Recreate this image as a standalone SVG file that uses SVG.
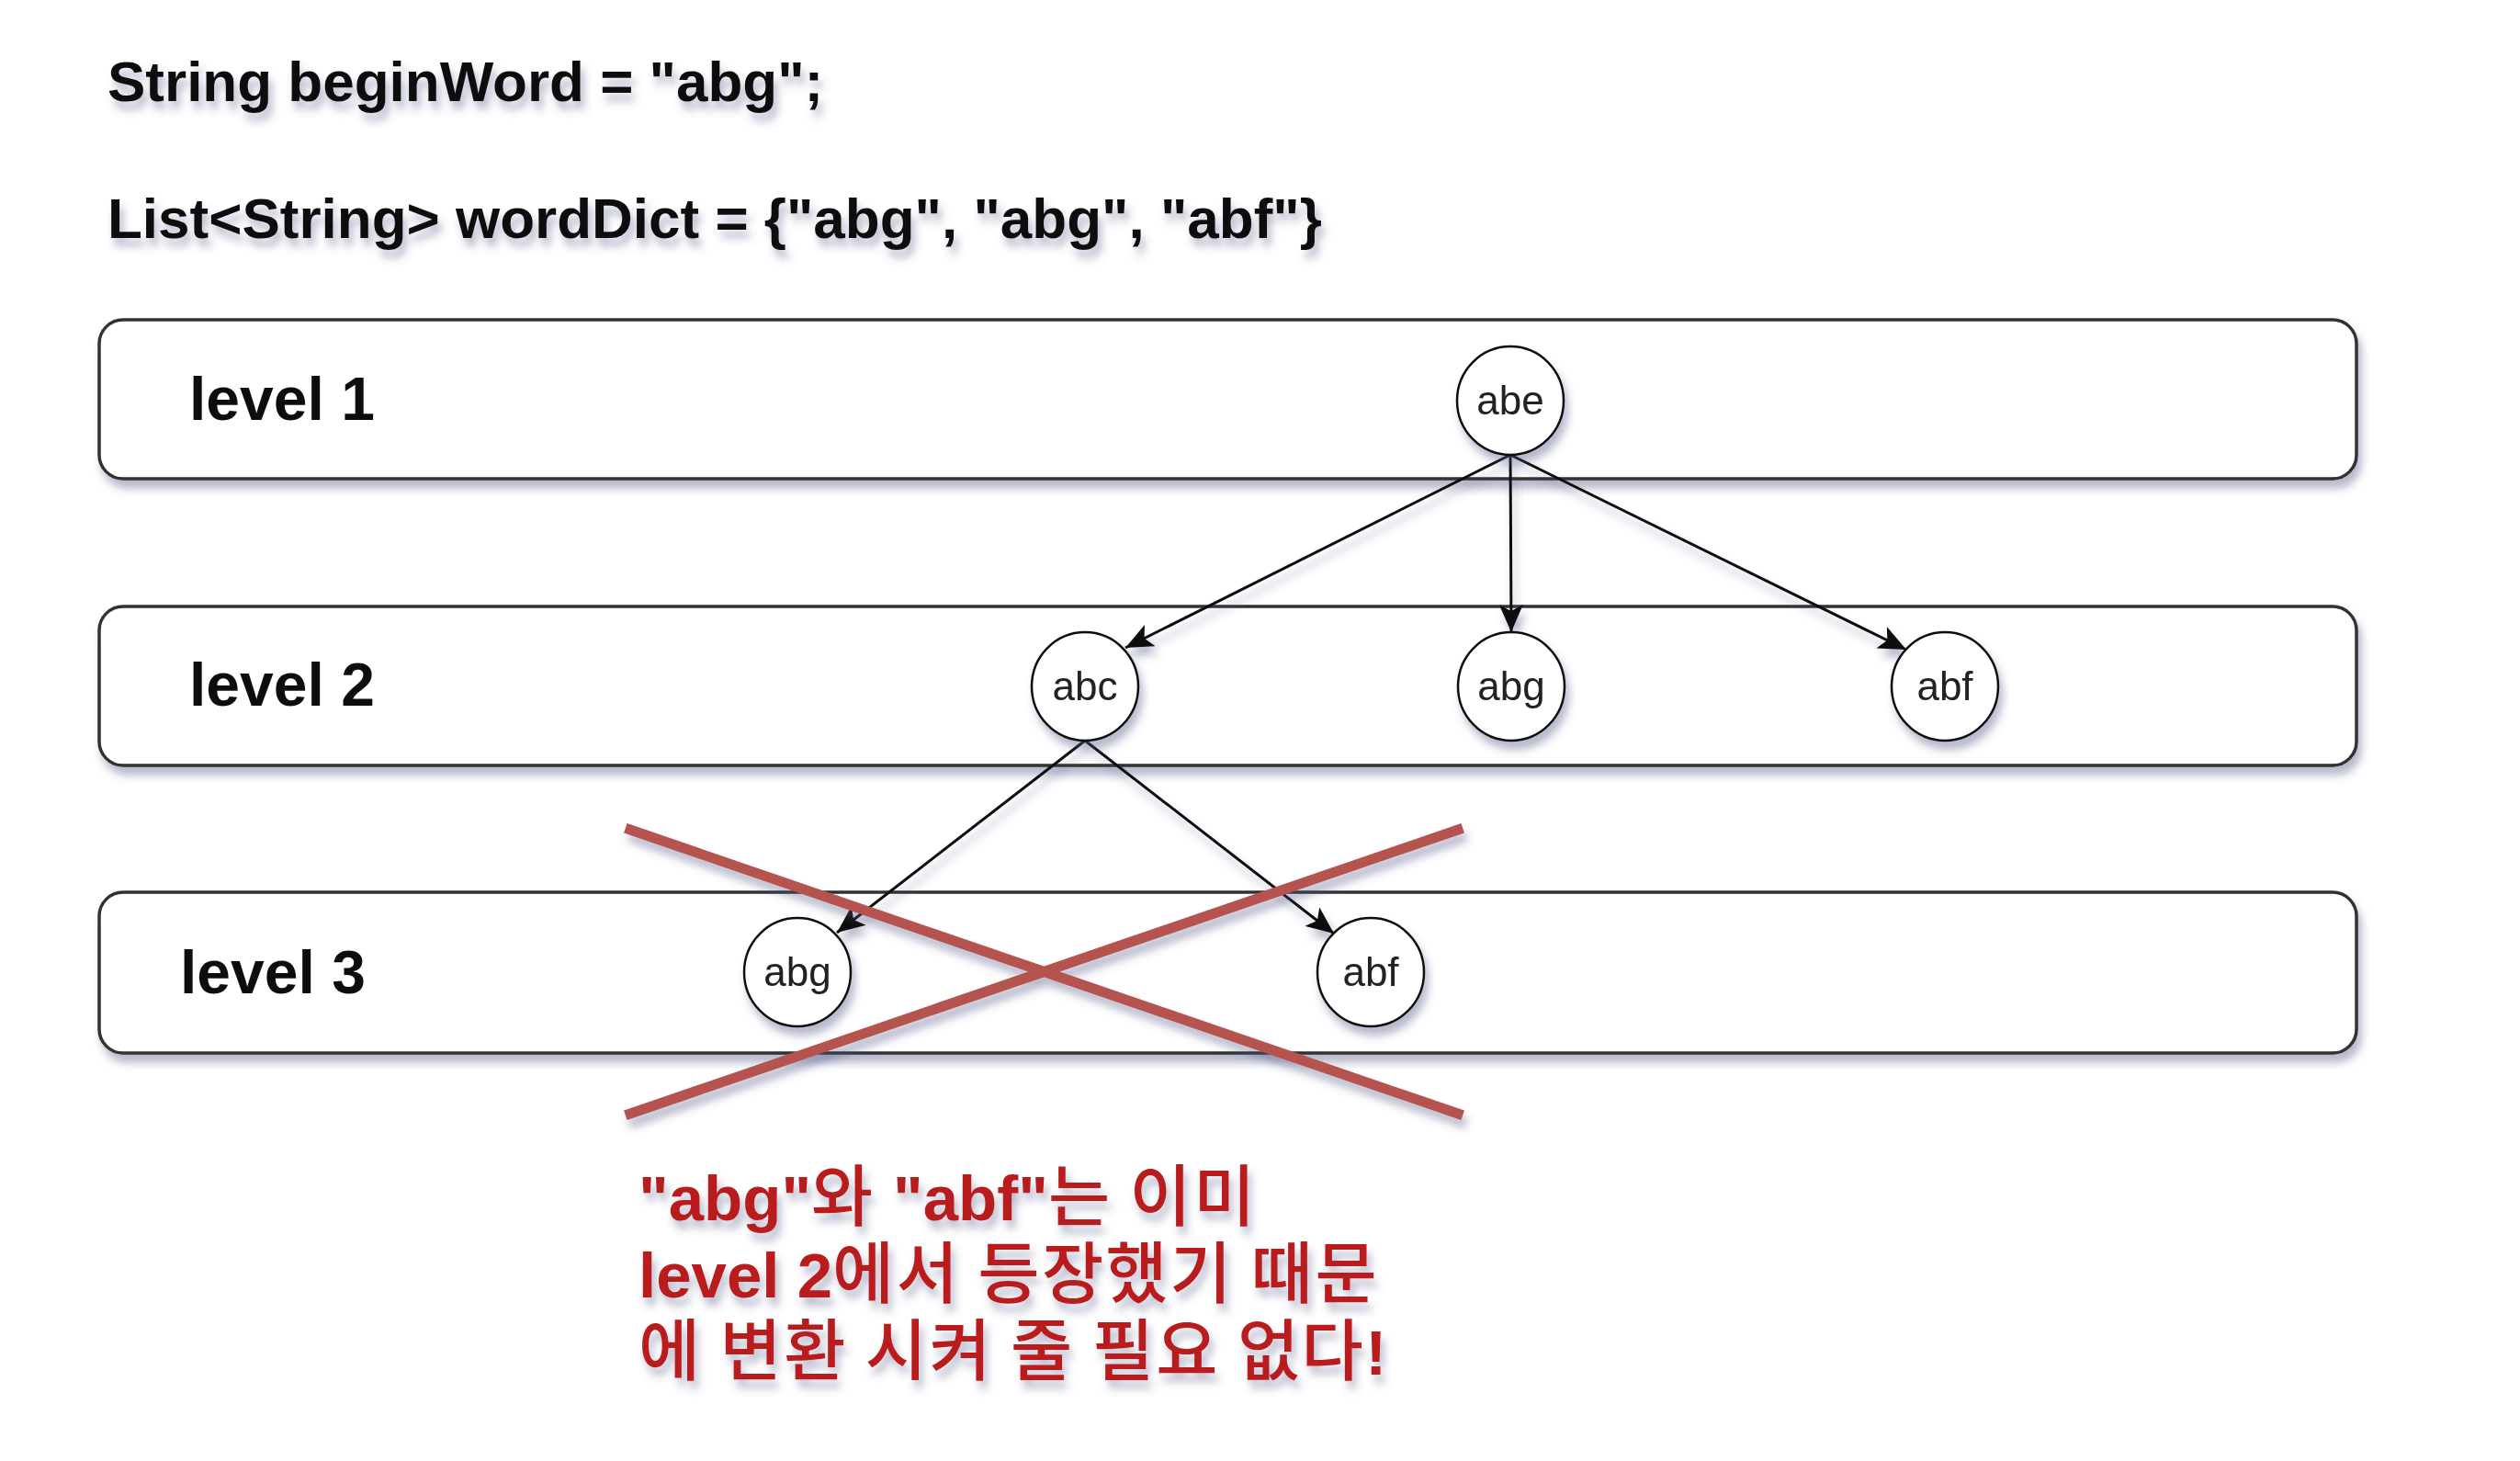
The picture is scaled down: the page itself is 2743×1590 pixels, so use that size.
<svg xmlns="http://www.w3.org/2000/svg" width="2743" height="1590" viewBox="0 0 2743 1590">
<style>
.code{font-family:"Liberation Sans",Arial,sans-serif;font-weight:bold;font-size:62px;fill:#111}
.lvl{font-family:"Liberation Sans",Arial,sans-serif;font-weight:bold;font-size:66px;fill:#111}
.lane{fill:#fff;stroke:#333;stroke-width:3.5}
.node ellipse{fill:#fff;stroke:#111;stroke-width:2.5}
.node text{font-family:"Liberation Sans",Arial,sans-serif;font-size:44px;fill:#222;text-anchor:middle}
.edge{stroke:#111;stroke-width:3;fill:none;marker-end:url(#arr)}
.cross{stroke:#b5534f;stroke-width:11;stroke-linecap:square}
.note{font-family:"Liberation Sans","Noto Sans CJK KR",sans-serif;font-weight:bold;font-size:69px;fill:#b91c1c}
.ko{font-family:"Noto Sans CJK KR",sans-serif;font-size:73px;font-weight:500;letter-spacing:2.5px}
</style>
<defs>
<filter id="sh" x="-10%" y="-30%" width="120%" height="160%">
<feDropShadow dx="4" dy="9" stdDeviation="5" flood-color="#4a4f80" flood-opacity="0.4"/>
</filter>
<marker id="arr" markerUnits="userSpaceOnUse" viewBox="0 0 30 26" refX="30" refY="13" markerWidth="30" markerHeight="26" orient="auto">
<path d="M0,0 L30,13 L0,26 L7,13 Z" fill="#111"/>
</marker>
</defs>
<rect width="2743" height="1590" fill="#fff"/>
<g id="header" filter="url(#sh)">
<text class="code" x="117" y="110">String beginWord = "abg";</text>
<text class="code" x="117" y="259">List&lt;String&gt; wordDict = {"abg", "abg", "abf"}</text>
</g>
<g id="lane1" filter="url(#sh)">
<rect class="lane" x="108" y="348" width="2457" height="173" rx="26"/>
<text class="lvl" x="206" y="457">level 1</text>
</g>
<g id="lane2" filter="url(#sh)">
<rect class="lane" x="108" y="660" width="2457" height="173" rx="26"/>
<text class="lvl" x="206" y="768">level 2</text>
</g>
<g id="lane3" filter="url(#sh)">
<rect class="lane" x="108" y="971" width="2457" height="175" rx="26"/>
<text class="lvl" x="196" y="1081">level 3</text>
</g>
<g id="connectors" filter="url(#sh)">
<line class="edge" x1="1644" y1="495" x2="1225" y2="705"/>
<line class="edge" x1="1644" y1="495" x2="1645" y2="688"/>
<line class="edge" x1="1644" y1="495" x2="2075" y2="707"/>
<line class="edge" x1="1181" y1="806" x2="911" y2="1015"/>
<line class="edge" x1="1181" y1="806" x2="1452" y2="1016"/>
</g>
<g id="n-abe" class="node" filter="url(#sh)">
<ellipse cx="1644" cy="436" rx="58" ry="59"/>
<text x="1644" y="451">abe</text>
</g>
<g id="n-abc" class="node" filter="url(#sh)">
<ellipse cx="1181" cy="747" rx="58" ry="59"/>
<text x="1181" y="762">abc</text>
</g>
<g id="n-abg2" class="node" filter="url(#sh)">
<ellipse cx="1645" cy="747" rx="58" ry="59"/>
<text x="1645" y="762">abg</text>
</g>
<g id="n-abf2" class="node" filter="url(#sh)">
<ellipse cx="2117" cy="747" rx="58" ry="59"/>
<text x="2117" y="762">abf</text>
</g>
<g id="n-abg3" class="node" filter="url(#sh)">
<ellipse cx="868" cy="1058" rx="58" ry="59"/>
<text x="868" y="1073">abg</text>
</g>
<g id="n-abf3" class="node" filter="url(#sh)">
<ellipse cx="1492" cy="1058" rx="58" ry="59"/>
<text x="1492" y="1073">abf</text>
</g>
<g id="cross" filter="url(#sh)">
<line class="cross" x1="686" y1="903" x2="1587" y2="1212"/>
<line class="cross" x1="686" y1="1212" x2="1587" y2="903"/>
</g>
<g id="note" filter="url(#sh)">
<text class="note" x="695" y="1328">"abg"<tspan class="ko">와</tspan> "abf"<tspan class="ko">는 이미</tspan></text>
<text class="note" x="695" y="1412">level 2<tspan class="ko">에서 등장했기 때문</tspan></text>
<text class="note" x="695" y="1496"><tspan class="ko">에 변환 시켜 줄 필요 없다</tspan>!</text>
</g>
</svg>
